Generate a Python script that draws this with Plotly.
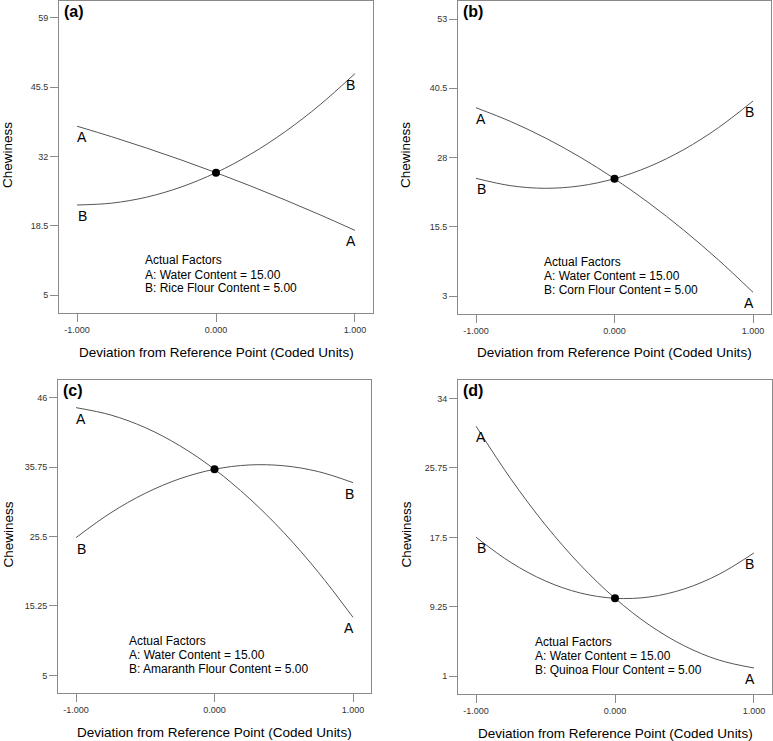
import plotly.graph_objects as go
from plotly.subplots import make_subplots

# ---------------- data ----------------
x_dev = [-1.0, -0.75, -0.5, -0.25, 0.0, 0.25, 0.5, 0.75, 1.0]
x_tickvals = [-1.0, 0.0, 1.0]
x_ticktext = ["-1.000", "0.000", "1.000"]

panel_labels = ["(a)", "(b)", "(c)", "(d)"]
flour_names = ["Rice", "Corn", "Amaranth", "Quinoa"]

# factor A (water content) traces
a_rice = [37.9, 35.84, 33.65, 31.32, 28.85, 26.24, 23.5, 20.62, 17.6]
a_corn = [37.0, 34.52, 31.56, 28.12, 24.2, 19.8, 14.92, 9.56, 3.72]
a_amaranth = [44.52, 43.44, 41.57, 38.89, 35.42, 31.15, 26.09, 20.22, 13.57]
a_quinoa = [30.71, 24.46, 18.97, 14.24, 10.27, 7.06, 4.61, 2.92, 1.99]

# factor B (flour content) traces
b_rice = [22.55, 22.91, 24.07, 26.06, 28.85, 32.46, 36.88, 42.11, 48.15]
b_corn = [24.27, 22.94, 22.47, 22.9, 24.2, 26.38, 29.45, 33.4, 38.22]
b_amaranth = [25.33, 28.98, 31.88, 34.03, 35.42, 36.06, 35.94, 35.08, 33.45]
b_quinoa = [17.52, 14.53, 12.32, 10.9, 10.27, 10.43, 11.39, 13.13, 15.66]

# y tick values per panel
y_ticks_rice = [5, 18.5, 32, 45.5, 59]
y_ticks_corn = [3, 15.5, 28, 40.5, 53]
y_ticks_amaranth = [5, 15.25, 25.5, 35.75, 46]
y_ticks_quinoa = [1, 9.25, 17.5, 25.75, 34]

A_series = [a_rice, a_corn, a_amaranth, a_quinoa]
B_series = [b_rice, b_corn, b_amaranth, b_quinoa]
Y_ticks = [y_ticks_rice, y_ticks_corn, y_ticks_amaranth, y_ticks_quinoa]

# ---------------- layout geometry ----------------
W, H = 773, 741
# plot boxes in pixels: (left, right, top, bottom)
boxes = [(59, 373, 1, 313), (458, 771, 1, 314), (58, 371, 380, 693), (458, 772, 380, 694)]
y_ranges = [[1.5, 62.3], [-0.2, 56.25], [2.4, 48.6], [-1.1, 36.2]]
x_range = [-1.13, 1.13]
text_x = [0.268, 0.269, 0.22, 0.24]
text_y = [[0.170, 0.122, 0.079], [0.167, 0.121, 0.077], [0.167, 0.121, 0.077], [0.167, 0.121, 0.076]]

FONT = "Arial, Liberation Sans, sans-serif"
LINE_COL = "#555555"
FRAME_COL = "#8a8a8a"

fig = make_subplots(rows=2, cols=2)
annotations = []

for i in range(4):
    r, c = i // 2 + 1, i % 2 + 1
    xa = "x" if i == 0 else f"x{i+1}"
    ya = "y" if i == 0 else f"y{i+1}"
    A = A_series[i]
    B = B_series[i]
    fig.add_trace(go.Scatter(x=x_dev, y=A, mode="lines", line=dict(color=LINE_COL, width=1, shape="spline"),
                             showlegend=False, hoverinfo="skip"), row=r, col=c)
    fig.add_trace(go.Scatter(x=x_dev, y=B, mode="lines", line=dict(color=LINE_COL, width=1, shape="spline"),
                             showlegend=False, hoverinfo="skip"), row=r, col=c)
    fig.add_trace(go.Scatter(x=[x_dev[4]], y=[A[4]], mode="markers", marker=dict(color="black", size=8),
                             showlegend=False, hoverinfo="skip"), row=r, col=c)

    l, rr, t, b = boxes[i]
    xdom = [l / W, rr / W]
    ydom = [1 - b / H, 1 - t / H]
    axis_common = dict(showgrid=False, zeroline=False, showline=True, linecolor=FRAME_COL, linewidth=1,
                       mirror=True, ticks="outside", tickcolor=FRAME_COL, ticklen=8, tickwidth=1,
                       tickfont=dict(family=FONT, size=9, color="#333333"))
    fig.update_xaxes(domain=xdom, range=x_range, tickvals=x_tickvals, ticktext=x_ticktext,
                     row=r, col=c, **axis_common)
    fig.update_yaxes(domain=ydom, range=y_ranges[i], tickvals=Y_ticks[i],
                     ticktext=[str(v) for v in Y_ticks[i]], row=r, col=c, **axis_common)

    # curve end labels
    for label, series in (("A", A), ("B", B)):
        annotations.append(dict(x=x_dev[0], y=series[0], xref=xa, yref=ya, text=label, showarrow=False,
                                xshift=5, yshift=-11, font=dict(family=FONT, size=14, color="black")))
        annotations.append(dict(x=x_dev[-1], y=series[-1], xref=xa, yref=ya, text=label, showarrow=False,
                                xshift=-4, yshift=-11, font=dict(family=FONT, size=14, color="black")))

    # actual factors text block
    lines = ["Actual Factors", "A: Water Content = 15.00", f"B: {flour_names[i]} Flour Content = 5.00"]
    for k, line in enumerate(lines):
        annotations.append(dict(x=text_x[i], y=text_y[i][k], xref=f"{xa} domain", yref=f"{ya} domain",
                                text=line, showarrow=False, xanchor="left", yanchor="middle",
                                font=dict(family=FONT, size=12, color="black")))

    # panel label
    annotations.append(dict(x=0.008, y=1.0, xref=f"{xa} domain", yref=f"{ya} domain", text=f"<b>{panel_labels[i]}</b>",
                            showarrow=False, xanchor="left", yanchor="top",
                            font=dict(family=FONT, size=16, color="black")))

    # axis titles
    cx = (l + rr) / 2 / W
    annotations.append(dict(x=cx, y=1 - (b + 39) / H, xref="paper", yref="paper",
                            text="Deviation from Reference Point (Coded Units)", showarrow=False,
                            xanchor="center", yanchor="middle", font=dict(family=FONT, size=13.5, color="black")))
    ax_x = 8 if c == 1 else 405.5
    annotations.append(dict(x=ax_x / W, y=1 - ((t + b) / 2 - 2) / H, xref="paper", yref="paper",
                            text="Chewiness", textangle=-90, showarrow=False,
                            xanchor="center", yanchor="middle", font=dict(family=FONT, size=13.5, color="black")))

fig.update_layout(width=W, height=H, margin=dict(l=0, r=0, t=0, b=0),
                  paper_bgcolor="white", plot_bgcolor="white", annotations=annotations,
                  showlegend=False)

fig.write_html("out.html", config={"displayModeBar": False},
               post_script="document.body.style.margin='0';document.body.style.overflow='hidden';")
